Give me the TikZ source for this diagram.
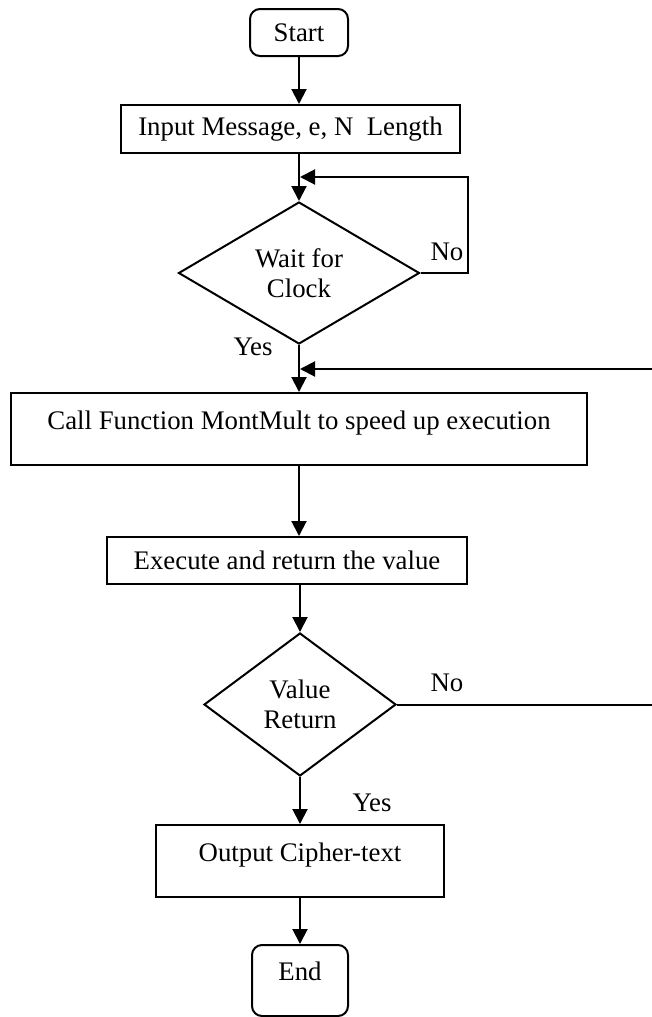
\documentclass[tikz,border=0pt]{standalone}
\usepackage{fontspec}
\setmainfont{Liberation Serif}
\usetikzlibrary{shapes.geometric,arrows.meta}

\begin{document}
\begin{tikzpicture}[x=0.5pt,y=-0.5pt,
    every node/.style={font=\fontsize{13.4}{15}\selectfont},
    blockbox/.style={draw,line width=1pt,inner sep=0pt},
    termbox/.style={blockbox,rounded corners=5pt},
    decide/.style={draw,line width=1pt,diamond,shape aspect=1.7,inner sep=0pt,align=center},
    lowtext/.style={text height=10pt,text depth=10pt},
    flow/.style={line width=1pt,-{Triangle[length=7.5pt,width=7.5pt]}},
    wire/.style={line width=1pt}]
    \useasboundingbox (0,0) rectangle (652,1017);
    \node[termbox,minimum width=49pt,minimum height=23.5pt] (start) at (299,32.5) {Start};
    \node[blockbox,minimum width=169.5pt,minimum height=24pt] (input) at (290.5,129) {Input Message, e, N\ \ Length};
    \node[decide,minimum width=120.5pt,minimum height=71pt] (wait) at (299,273) {Wait for\\Clock};
    \node[blockbox,lowtext,minimum width=288pt,minimum height=36pt] (call) at (299,429) {Call Function MontMult to speed up execution};
    \node[blockbox,minimum width=180pt,minimum height=23.5pt] (exec) at (287,560.5) {Execute and return the value};
    \node[decide,minimum width=96pt,minimum height=71.5pt] (value) at (300,704.5) {Value\\Return};
    \node[blockbox,lowtext,minimum width=144pt,minimum height=36pt] (output) at (300,861) {Output Cipher-text};
    \node[termbox,lowtext,minimum width=48pt,minimum height=35.5pt] (end) at (300,980.5) {End};

    % loop-back points
    \coordinate (waitjoin) at (300,177);
    \coordinate (waitloop) at (468,177);
    \coordinate (calljoin) at (300,369);
    \coordinate (retloop) at (664,369);

    \draw[flow] (start.south -| wait.north) -- (wait.north |- input.north);
    \draw[flow] (wait.north |- input.south) -- (wait.north);
    \draw[flow] (wait.east) -| (waitloop) -- (waitjoin);
    \draw[flow] (wait.south) -- (wait.south |- call.north);
    \draw[flow] (value.east) -| (retloop) -- (calljoin);
    \draw[flow] (wait.south |- call.south) -- (wait.south |- exec.north);
    \draw[flow] (value.north |- exec.south) -- (value.north);
    \draw[flow] (value.south) -- (output.north);
    \draw[flow] (output.south) -- (end.north);

    \node (waitno) at (447,252) {No};
    \node (waityes) at (253,347) {Yes};
    \node (valueno) at (447,683) {No};
    \node (valueyes) at (372,803) {Yes};
\end{tikzpicture}
\end{document}
